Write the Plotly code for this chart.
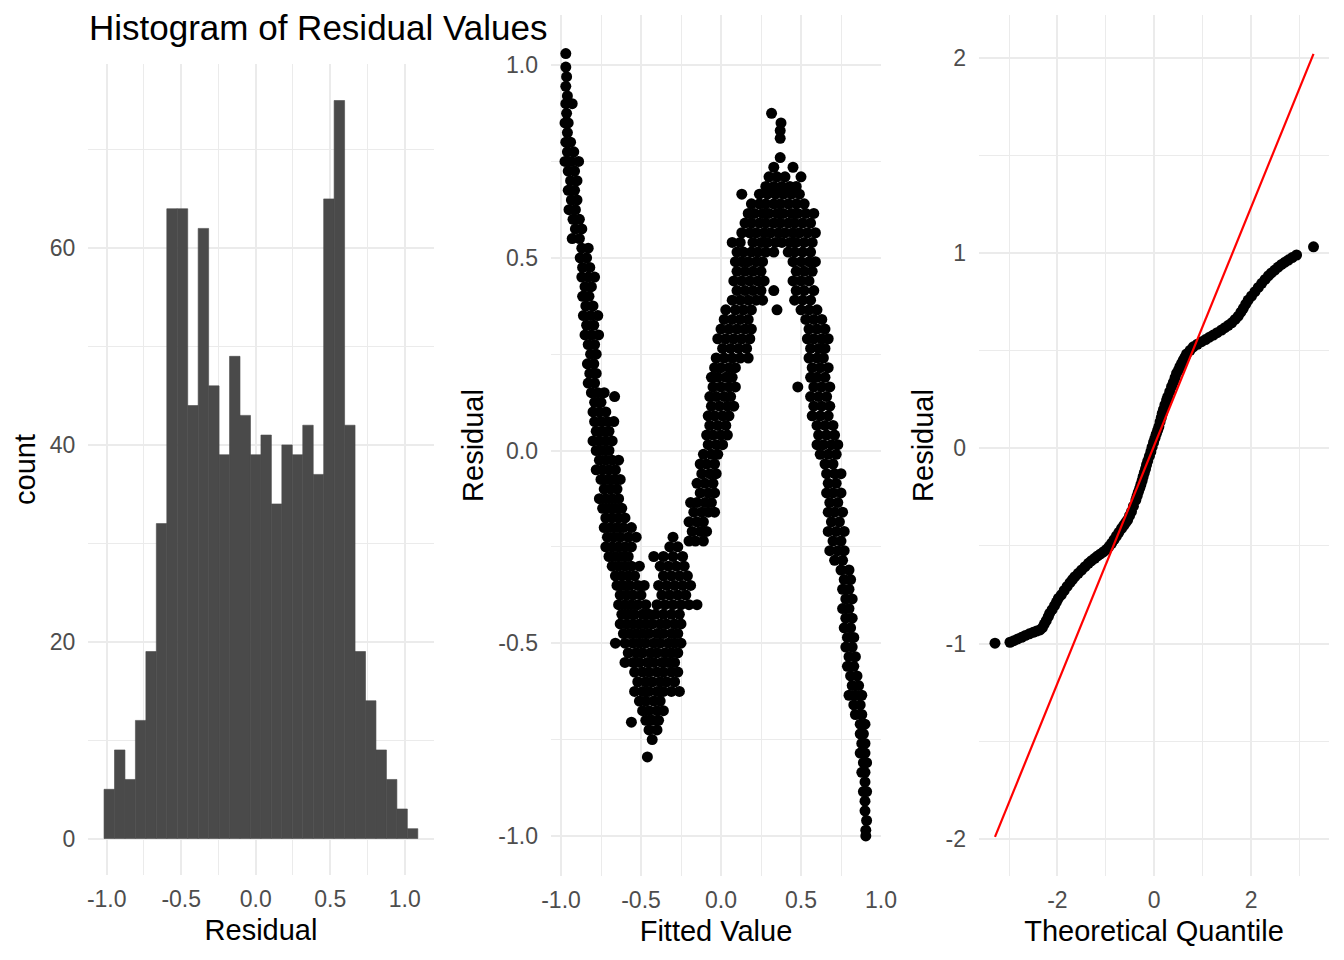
import plotly.graph_objects as go

# ---- histogram of residuals (30 bins) ----
hist_counts = [5, 9, 6, 12, 19, 32, 64, 64, 44, 62, 46, 39, 49, 43, 39,
               41, 34, 40, 39, 42, 37, 65, 75, 42, 19, 14, 9, 6, 3, 1]
bin_start = -1.018
bin_width = 0.0702

# ---- fitted value vs residual ----
left_branch = [
    (-0.97, 1.03), (-0.97, 0.995), (-0.965, 0.97), (-0.97, 0.945), (-0.96, 0.92), (-0.97, 0.90), (-0.93, 0.90),
    (-0.965, 0.875), (-0.955, 0.85), (-0.975, 0.85), (-0.96, 0.825), (-0.97, 0.80), (-0.94, 0.80), (-0.96, 0.775),
    (-0.92, 0.775), (-0.975, 0.75), (-0.935, 0.75), (-0.89, 0.75), (-0.955, 0.725), (-0.915, 0.725), (-0.94, 0.70),
    (-0.90, 0.70), (-0.955, 0.675), (-0.915, 0.675), (-0.935, 0.65), (-0.90, 0.65), (-0.95, 0.625), (-0.91, 0.625),
    (-0.925, 0.60), (-0.885, 0.60), (-0.91, 0.575), (-0.87, 0.575), (-0.93, 0.55), (-0.885, 0.55), (-0.87, 0.525),
    (-0.83, 0.525), (-0.88, 0.50), (-0.84, 0.50), (-0.865, 0.475), (-0.82, 0.475), (-0.87, 0.45), (-0.83, 0.45),
    (-0.79, 0.45), (-0.85, 0.425), (-0.81, 0.425), (-0.865, 0.40), (-0.825, 0.40), (-0.845, 0.375), (-0.80, 0.375),
    (-0.86, 0.35), (-0.815, 0.35), (-0.77, 0.35), (-0.84, 0.325), (-0.795, 0.325), (-0.85, 0.30), (-0.81, 0.30),
    (-0.765, 0.30), (-0.83, 0.275), (-0.79, 0.275), (-0.815, 0.25), (-0.78, 0.25), (-0.835, 0.225), (-0.795, 0.225),
    (-0.82, 0.20), (-0.78, 0.20), (-0.83, 0.175), (-0.79, 0.175), (-0.81, 0.15), (-0.77, 0.15), (-0.73, 0.15),
    (-0.79, 0.125), (-0.75, 0.125), (-0.665, 0.14), (-0.80, 0.10), (-0.76, 0.10), (-0.72, 0.10), (-0.79, 0.075),
    (-0.75, 0.075), (-0.71, 0.075), (-0.67, 0.075), (-0.78, 0.05), (-0.74, 0.05), (-0.70, 0.05), (-0.80, 0.025),
    (-0.76, 0.025), (-0.72, 0.025), (-0.68, 0.025), (-0.78, 0.0), (-0.74, 0.0), (-0.70, 0.0), (-0.76, -0.025),
    (-0.72, -0.025), (-0.68, -0.025), (-0.64, -0.025), (-0.78, -0.05), (-0.74, -0.05), (-0.70, -0.05), (-0.66, -0.05),
    (-0.75, -0.075), (-0.71, -0.075), (-0.67, -0.075), (-0.63, -0.075), (-0.73, -0.10), (-0.69, -0.10), (-0.65, -0.10),
    (-0.76, -0.125), (-0.72, -0.125), (-0.68, -0.125), (-0.64, -0.125), (-0.74, -0.15), (-0.70, -0.15), (-0.66, -0.15),
    (-0.62, -0.15), (-0.72, -0.175), (-0.68, -0.175), (-0.64, -0.175), (-0.60, -0.175), (-0.73, -0.20), (-0.69, -0.20),
    (-0.65, -0.20), (-0.61, -0.20), (-0.56, -0.20),
]

valley = [
    (-0.71, -0.225), (-0.67, -0.225), (-0.63, -0.225), (-0.58, -0.225), (-0.53, -0.225),
    (-0.72, -0.25), (-0.68, -0.25), (-0.64, -0.25), (-0.60, -0.25), (-0.56, -0.25),
    (-0.70, -0.275), (-0.66, -0.275), (-0.62, -0.275), (-0.58, -0.275),
    (-0.68, -0.30), (-0.64, -0.30), (-0.60, -0.30), (-0.56, -0.30), (-0.51, -0.30),
    (-0.66, -0.325), (-0.62, -0.325), (-0.58, -0.325), (-0.54, -0.325),
    (-0.65, -0.35), (-0.61, -0.35), (-0.57, -0.35), (-0.52, -0.35), (-0.48, -0.35),
    (-0.63, -0.375), (-0.59, -0.375), (-0.55, -0.375), (-0.50, -0.375),
    (-0.64, -0.40), (-0.60, -0.40), (-0.56, -0.40), (-0.52, -0.40), (-0.47, -0.40),
    (-0.62, -0.425), (-0.58, -0.425), (-0.54, -0.425), (-0.49, -0.425), (-0.45, -0.425), (-0.41, -0.425),
    (-0.36, -0.425), (-0.31, -0.425), (-0.26, -0.425),
    (-0.63, -0.45), (-0.59, -0.45), (-0.55, -0.45), (-0.51, -0.45), (-0.47, -0.45), (-0.43, -0.45), (-0.38, -0.45),
    (-0.34, -0.45), (-0.29, -0.45), (-0.25, -0.45),
    (-0.61, -0.475), (-0.57, -0.475), (-0.53, -0.475), (-0.49, -0.475), (-0.45, -0.475), (-0.40, -0.475),
    (-0.36, -0.475), (-0.31, -0.475), (-0.27, -0.475),
    (-0.66, -0.50), (-0.60, -0.50), (-0.55, -0.50), (-0.51, -0.50), (-0.47, -0.50), (-0.42, -0.50), (-0.38, -0.50),
    (-0.33, -0.50), (-0.29, -0.50), (-0.25, -0.50),
    (-0.58, -0.525), (-0.53, -0.525), (-0.49, -0.525), (-0.44, -0.525), (-0.40, -0.525), (-0.35, -0.525),
    (-0.31, -0.525), (-0.27, -0.525),
    (-0.60, -0.55), (-0.55, -0.55), (-0.51, -0.55), (-0.46, -0.55), (-0.42, -0.55), (-0.37, -0.55), (-0.33, -0.55),
    (-0.29, -0.55),
    (-0.54, -0.575), (-0.49, -0.575), (-0.45, -0.575), (-0.40, -0.575), (-0.36, -0.575), (-0.31, -0.575), (-0.27, -0.575),
    (-0.52, -0.60), (-0.47, -0.60), (-0.43, -0.60), (-0.38, -0.60), (-0.34, -0.60), (-0.29, -0.60),
    (-0.54, -0.625), (-0.49, -0.625), (-0.45, -0.625), (-0.40, -0.625), (-0.36, -0.625), (-0.31, -0.625), (-0.26, -0.625),
    (-0.51, -0.65), (-0.47, -0.65), (-0.42, -0.65), (-0.38, -0.65),
    (-0.49, -0.675), (-0.45, -0.675), (-0.40, -0.675), (-0.36, -0.675),
    (-0.47, -0.70), (-0.43, -0.70), (-0.39, -0.70), (-0.56, -0.705),
    (-0.45, -0.725), (-0.40, -0.725), (-0.43, -0.75), (-0.46, -0.795),
]

rising_branch = [
    (-0.30, -0.225), (-0.32, -0.25), (-0.27, -0.25), (-0.42, -0.275), (-0.36, -0.275), (-0.30, -0.275), (-0.24, -0.275),
    (-0.38, -0.30), (-0.33, -0.30), (-0.28, -0.30), (-0.23, -0.30),
    (-0.36, -0.325), (-0.31, -0.325), (-0.26, -0.325), (-0.21, -0.325),
    (-0.39, -0.35), (-0.34, -0.35), (-0.29, -0.35), (-0.24, -0.35), (-0.19, -0.35),
    (-0.37, -0.375), (-0.32, -0.375), (-0.27, -0.375), (-0.22, -0.375),
    (-0.40, -0.40), (-0.35, -0.40), (-0.30, -0.40), (-0.25, -0.40), (-0.20, -0.40), (-0.15, -0.40),
    (-0.20, -0.235), (-0.16, -0.235), (-0.11, -0.235),
    (-0.18, -0.21), (-0.13, -0.21), (-0.09, -0.21),
    (-0.20, -0.185), (-0.15, -0.185), (-0.11, -0.185),
    (-0.17, -0.16), (-0.12, -0.16), (-0.08, -0.16), (-0.04, -0.16),
    (-0.19, -0.135), (-0.15, -0.135), (-0.10, -0.135), (-0.06, -0.135),
    (-0.13, -0.11), (-0.08, -0.11), (-0.04, -0.11),
    (-0.15, -0.085), (-0.10, -0.085), (-0.05, -0.085),
    (-0.12, -0.06), (-0.07, -0.06), (-0.03, -0.06),
    (-0.13, -0.035), (-0.09, -0.035), (-0.04, -0.035),
    (-0.11, -0.01), (-0.06, -0.01), (-0.02, -0.01),
    (-0.08, 0.015), (-0.03, 0.015), (0.01, 0.015),
    (-0.09, 0.04), (-0.05, 0.04), (0.00, 0.04), (0.04, 0.04),
    (-0.07, 0.065), (-0.02, 0.065), (0.03, 0.065),
    (-0.08, 0.09), (-0.04, 0.09), (0.01, 0.09), (0.05, 0.09),
    (-0.06, 0.115), (-0.01, 0.115), (0.04, 0.115), (0.08, 0.115),
    (-0.07, 0.14), (-0.03, 0.14), (0.02, 0.14), (0.06, 0.14),
    (-0.05, 0.165), (0.00, 0.165), (0.05, 0.165), (0.09, 0.165),
    (-0.06, 0.19), (-0.02, 0.19), (0.03, 0.19), (0.07, 0.19),
    (-0.04, 0.215), (0.00, 0.215), (0.05, 0.215), (0.09, 0.215),
    (-0.03, 0.24), (0.02, 0.24), (0.07, 0.24), (0.12, 0.24), (0.17, 0.24),
    (0.01, 0.265), (0.06, 0.265), (0.11, 0.265), (0.16, 0.265),
    (-0.02, 0.29), (0.03, 0.29), (0.08, 0.29), (0.13, 0.29), (0.18, 0.29),
    (0.00, 0.315), (0.05, 0.315), (0.10, 0.315), (0.15, 0.315), (0.19, 0.315),
    (0.02, 0.34), (0.07, 0.34), (0.12, 0.34), (0.17, 0.34),
    (0.03, 0.365), (0.09, 0.365), (0.14, 0.365), (0.19, 0.365), (0.35, 0.365),
    (0.07, 0.39), (0.12, 0.39), (0.17, 0.39), (0.22, 0.39), (0.26, 0.39),
    (0.10, 0.415), (0.15, 0.415), (0.20, 0.415), (0.25, 0.415), (0.33, 0.415),
    (0.08, 0.44), (0.13, 0.44), (0.18, 0.44), (0.23, 0.44), (0.27, 0.44),
    (0.10, 0.465), (0.15, 0.465), (0.20, 0.465), (0.25, 0.465),
    (0.09, 0.49), (0.13, 0.49), (0.17, 0.49), (0.22, 0.49), (0.26, 0.49),
]

peak = [
    (0.316, 0.875), (0.375, 0.85), (0.37, 0.83), (0.37, 0.81), (0.37, 0.76), (0.33, 0.735), (0.45, 0.735),
    (0.30, 0.71), (0.35, 0.71), (0.40, 0.71), (0.50, 0.71),
    (0.28, 0.685), (0.33, 0.685), (0.38, 0.685), (0.43, 0.685), (0.47, 0.685),
    (0.13, 0.665), (0.24, 0.665), (0.29, 0.665), (0.34, 0.665), (0.39, 0.665), (0.44, 0.665), (0.49, 0.665),
    (0.19, 0.64), (0.24, 0.64), (0.28, 0.64), (0.33, 0.64), (0.37, 0.64), (0.42, 0.64), (0.47, 0.64), (0.52, 0.64),
    (0.17, 0.615), (0.21, 0.615), (0.26, 0.615), (0.30, 0.615), (0.35, 0.615), (0.39, 0.615), (0.44, 0.615),
    (0.48, 0.615), (0.53, 0.615), (0.58, 0.615),
    (0.15, 0.59), (0.19, 0.59), (0.24, 0.59), (0.28, 0.59), (0.33, 0.59), (0.37, 0.59), (0.42, 0.59), (0.46, 0.59),
    (0.51, 0.59), (0.56, 0.59),
    (0.13, 0.565), (0.18, 0.565), (0.22, 0.565), (0.27, 0.565), (0.31, 0.565), (0.36, 0.565), (0.40, 0.565),
    (0.45, 0.565), (0.49, 0.565), (0.54, 0.565), (0.59, 0.565),
    (0.07, 0.54), (0.12, 0.54), (0.20, 0.54), (0.25, 0.54), (0.29, 0.54), (0.34, 0.54), (0.38, 0.54), (0.43, 0.54),
    (0.47, 0.54), (0.52, 0.54), (0.57, 0.54),
    (0.10, 0.515), (0.14, 0.515), (0.19, 0.515), (0.23, 0.515), (0.28, 0.515), (0.33, 0.515), (0.42, 0.515),
    (0.46, 0.515), (0.51, 0.515), (0.56, 0.515),
]

falling_branch = [
    (0.45, 0.49), (0.50, 0.49), (0.55, 0.49), (0.59, 0.49), (0.47, 0.465), (0.52, 0.465), (0.57, 0.465),
    (0.45, 0.44), (0.50, 0.44), (0.55, 0.44), (0.47, 0.415), (0.52, 0.415), (0.58, 0.415),
    (0.46, 0.39), (0.51, 0.39), (0.56, 0.39), (0.50, 0.365), (0.55, 0.365), (0.60, 0.365),
    (0.53, 0.34), (0.58, 0.34), (0.63, 0.34), (0.55, 0.315), (0.60, 0.315), (0.65, 0.315),
    (0.54, 0.29), (0.58, 0.29), (0.63, 0.29), (0.67, 0.29), (0.56, 0.265), (0.61, 0.265), (0.65, 0.265),
    (0.55, 0.24), (0.60, 0.24), (0.64, 0.24), (0.57, 0.215), (0.62, 0.215), (0.67, 0.215),
    (0.56, 0.19), (0.60, 0.19), (0.65, 0.19), (0.48, 0.165), (0.58, 0.165), (0.63, 0.165), (0.68, 0.165),
    (0.56, 0.14), (0.61, 0.14), (0.66, 0.14), (0.58, 0.115), (0.63, 0.115), (0.68, 0.115),
    (0.57, 0.09), (0.62, 0.09), (0.67, 0.09), (0.60, 0.065), (0.65, 0.065), (0.70, 0.065),
    (0.61, 0.04), (0.66, 0.04), (0.71, 0.04), (0.60, 0.015), (0.64, 0.015), (0.69, 0.015), (0.73, 0.015),
    (0.62, -0.01), (0.67, -0.01), (0.72, -0.01), (0.65, -0.035), (0.70, -0.035),
    (0.66, -0.06), (0.71, -0.06), (0.75, -0.06), (0.67, -0.085), (0.72, -0.085),
    (0.66, -0.11), (0.70, -0.11), (0.75, -0.11), (0.68, -0.135), (0.73, -0.135),
    (0.67, -0.16), (0.71, -0.16), (0.76, -0.16), (0.69, -0.185), (0.74, -0.185),
    (0.67, -0.21), (0.72, -0.21), (0.77, -0.21), (0.70, -0.235), (0.75, -0.235),
    (0.68, -0.26), (0.73, -0.26), (0.77, -0.26), (0.71, -0.285), (0.76, -0.285),
    (0.75, -0.31), (0.80, -0.31), (0.77, -0.335), (0.81, -0.335), (0.76, -0.36), (0.80, -0.36),
    (0.78, -0.385), (0.82, -0.385), (0.76, -0.41), (0.80, -0.41), (0.78, -0.435), (0.82, -0.435),
    (0.77, -0.46), (0.81, -0.46), (0.79, -0.485), (0.83, -0.485), (0.78, -0.51), (0.82, -0.51),
    (0.80, -0.535), (0.84, -0.535), (0.79, -0.56), (0.83, -0.56), (0.81, -0.585), (0.85, -0.585),
    (0.82, -0.61), (0.86, -0.61), (0.80, -0.635), (0.84, -0.635), (0.88, -0.635),
    (0.83, -0.66), (0.87, -0.66), (0.84, -0.685), (0.88, -0.685), (0.87, -0.71), (0.90, -0.71),
    (0.87, -0.735), (0.89, -0.735), (0.88, -0.76), (0.90, -0.76), (0.87, -0.785), (0.90, -0.785),
    (0.89, -0.81), (0.91, -0.81), (0.88, -0.835), (0.90, -0.835), (0.90, -0.86), (0.89, -0.885),
    (0.91, -0.885), (0.90, -0.91), (0.90, -0.935), (0.91, -0.96), (0.905, -0.985), (0.905, -1.0),
]

# ---- normal QQ: theoretical quantile vs sorted residual ----
qq_theory = [-3.29, -2.98, -2.90, -2.82, -2.74, -2.66, -2.58, -2.50, -2.43, -2.36,
             -2.31, -2.27, -2.23, -2.19, -2.16, -2.11, -2.06, -2.02, -1.98,
             -1.92, -1.86, -1.80, -1.74, -1.69, -1.64, -1.57, -1.50, -1.43, -1.36, -1.30, -1.23,
             -1.17, -1.11, -1.05, -0.985, -0.93, -0.88, -0.83, -0.78, -0.73, -0.675,
             -0.63, -0.59, -0.55, -0.51, -0.47, -0.43, -0.38, -0.355, -0.33, -0.30, -0.275, -0.25,
             -0.23, -0.205, -0.18, -0.16, -0.135, -0.10, -0.07,
             -0.045, -0.015, 0.014, 0.04, 0.07, 0.096, 0.12, 0.145, 0.165, 0.19, 0.22, 0.255,
             0.28, 0.32, 0.358, 0.395, 0.43, 0.461, 0.50, 0.53, 0.565, 0.60, 0.635, 0.668,
             0.74, 0.806, 0.89, 0.978, 1.06, 1.14, 1.22, 1.30, 1.39, 1.46, 1.53, 1.60, 1.67, 1.735,
             1.79, 1.84, 1.89, 1.94, 2.01, 2.08, 2.15, 2.22, 2.29, 2.36, 2.42, 2.49, 2.56, 2.63,
             2.70, 2.77, 2.85, 2.94, 3.29]
qq_resid = [-0.998, -0.993, -0.985, -0.976, -0.968, -0.958, -0.95, -0.942, -0.936, -0.93,
            -0.918, -0.900, -0.882, -0.862, -0.845, -0.826, -0.806, -0.787, -0.768,
            -0.75, -0.728, -0.707, -0.688, -0.672, -0.657, -0.64, -0.623, -0.606, -0.589, -0.576, -0.563,
            -0.551, -0.541, -0.53, -0.517, -0.502, -0.486, -0.467, -0.449, -0.43, -0.41,
            -0.395, -0.38, -0.367, -0.345, -0.324, -0.296, -0.265, -0.245, -0.225, -0.205, -0.185, -0.165,
            -0.145, -0.125, -0.105, -0.085, -0.065, -0.04, -0.017,
            0.006, 0.03, 0.051, 0.072, 0.092, 0.111, 0.135, 0.157, 0.179, 0.198, 0.222, 0.247,
            0.265, 0.29, 0.316, 0.338, 0.362, 0.384, 0.40, 0.418, 0.435, 0.451, 0.467, 0.483,
            0.502, 0.52, 0.533, 0.546, 0.557, 0.569, 0.58, 0.592, 0.606, 0.618, 0.63, 0.643, 0.66, 0.677,
            0.697, 0.717, 0.738, 0.759, 0.78, 0.802, 0.824, 0.845, 0.865, 0.884, 0.898, 0.913, 0.928,
            0.942, 0.953, 0.964, 0.977, 0.99, 1.032]
qq_line_x = [-3.29, 3.29]
qq_line_y = [-1.99, 2.02]

# tick labels (ggplot style, plain hyphen minus)
hist_xticks = [-1.0, -0.5, 0.0, 0.5, 1.0]
hist_xlabels = ["-1.0", "-0.5", "0.0", "0.5", "1.0"]
hist_yticks = [0, 20, 40, 60]
res_ticks = [-1.0, -0.5, 0.0, 0.5, 1.0]
res_labels = ["-1.0", "-0.5", "0.0", "0.5", "1.0"]
qq_xticks = [-2, 0, 2]
qq_yticks = [-2, -1, 0, 1, 2]

FONT = "Liberation Sans, Arial, Helvetica, sans-serif"
GRID = "#EBEBEB"
BAR = "#4A4A4A"

# the page body keeps its default 8px margin, so the figure is 16px smaller
PAD = 8
W, H = 1344 - 2 * PAD, 960 - 2 * PAD


def fx(px):
    return (px - PAD) / W


def fy(py):
    return 1 - (py - PAD) / H


segments = [left_branch, valley, rising_branch, peak, falling_branch]
fitted = [p[0] for seg in segments for p in seg]
resid = [p[1] for seg in segments for p in seg]
bin_centers = [bin_start + (i + 0.5) * bin_width for i in range(len(hist_counts))]


def make_axis(domain, rng, vals, labels, minor_vals, title, standoff, anchor, label_gap):
    return dict(
        domain=domain, range=rng, anchor=anchor, automargin=False,
        tickmode="array", tickvals=vals, ticktext=labels,
        showgrid=True, gridcolor=GRID, gridwidth=2.2,
        minor=dict(tickmode="array", tickvals=minor_vals, showgrid=True,
                   gridcolor=GRID, gridwidth=1.1),
        zeroline=False, showline=False, ticks="", ticklabelstandoff=label_gap,
        tickfont=dict(size=23, color="#4D4D4D"),
        title=dict(text=title, font=dict(size=29, color="black"), standoff=standoff),
    )


fig = go.Figure()

fig.add_trace(go.Bar(x=bin_centers, y=hist_counts, width=bin_width,
                     marker=dict(color=BAR, line=dict(color=BAR, width=0.6)),
                     xaxis="x", yaxis="y"))

fig.add_trace(go.Scatter(x=fitted, y=resid, mode="markers",
                         marker=dict(color="black", size=11),
                         xaxis="x2", yaxis="y2"))

fig.add_trace(go.Scatter(x=qq_theory, y=qq_resid, mode="markers",
                         marker=dict(color="black", size=11),
                         xaxis="x3", yaxis="y3"))
fig.add_trace(go.Scatter(x=qq_line_x, y=qq_line_y, mode="lines",
                         line=dict(color="red", width=2.2),
                         xaxis="x3", yaxis="y3"))

fig.update_layout(
    width=W, height=H,
    margin=dict(l=0, r=0, t=0, b=0, autoexpand=False),
    paper_bgcolor="white", plot_bgcolor="white",
    showlegend=False,
    font=dict(family=FONT, color="black"),
    title=dict(text="Histogram of Residual Values", font=dict(size=35, color="black"),
               x=fx(89), xanchor="left", y=fy(28), yanchor="middle"),
    xaxis=make_axis([fx(88.4), fx(433.6)], [-1.123, 1.194], hist_xticks, hist_xlabels,
                    [-0.75, -0.25, 0.25, 0.75], "Residual", 8, "y", 8),
    yaxis=make_axis([fy(875.4), fy(63.6)], [-3.75, 78.75], hist_yticks,
                    [str(v) for v in hist_yticks], [10, 30, 50, 70], "count", 5, "x", 12),
    xaxis2=make_axis([fx(551), fx(881)], [-1.0625, 1.0], res_ticks, res_labels,
                     [-0.75, -0.25, 0.25, 0.75], "Fitted Value", 8, "y2", 8),
    yaxis2=make_axis([fy(876), fy(15)], [-1.104, 1.130], res_ticks, res_labels,
                     [-0.75, -0.25, 0.25, 0.75], "Residual", 6, "x2", 12),
    xaxis3=make_axis([fx(979), fx(1329)], [-3.62, 3.61], qq_xticks,
                     [str(v) for v in qq_xticks], [-3, -1, 1, 3], "Theoretical Quantile", 8, "y3", 8),
    yaxis3=make_axis([fy(876), fy(15)], [-2.19, 2.219], qq_yticks,
                     [str(v) for v in qq_yticks], [-1.5, -0.5, 0.5, 1.5], "Residual", 3, "x3", 12),
)

fig.write_html("out.html")
